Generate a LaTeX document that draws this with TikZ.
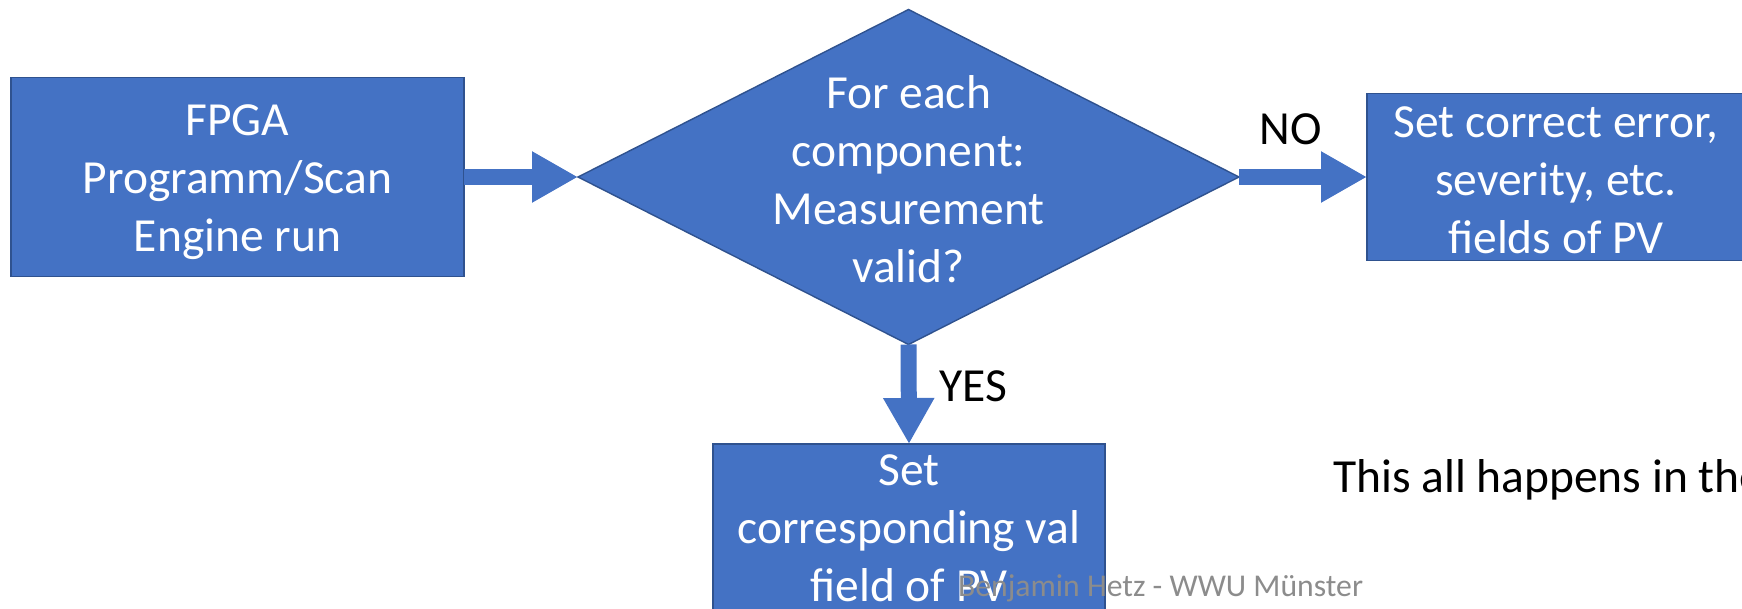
\documentclass[tikz,border=0pt]{standalone}
\usepackage{fontspec}
\setmainfont{Carlito}
\usetikzlibrary{shapes.geometric,arrows.meta}
\definecolor{officeblue}{HTML}{4472C4}
\definecolor{officeedge}{HTML}{2F528F}
\definecolor{footgray}{HTML}{8C8C8C}
\tikzset{
  bigfont/.style={font=\fontsize{47.5}{58}\selectfont},
  procbox/.style={rectangle, draw=officeedge, line width=1.4pt, fill=officeblue,
    text=white, align=center, inner sep=0pt, outer sep=0pt, bigfont},
  decbox/.style={diamond, draw=officeedge, line width=1.4pt, fill=officeblue,
    inner sep=0pt, outer sep=0pt},
  boxtext/.style={text=white, align=center, inner sep=0pt, bigfont},
  blockarrow/.style={draw=officeblue, line width=16pt,
    -{Triangle[width=48pt,length=46pt]}},
  plainlabel/.style={text=black, inner sep=0pt, bigfont},
}
\begin{document}
\begin{tikzpicture}[x=1pt,y=-1pt]
  \useasboundingbox (0,0) rectangle (1742,609);
  \clip (0,0) rectangle (1742,609);

  % process steps and decision
  \node[procbox, minimum width=453pt, minimum height=199pt] (fpga) at (237.5,177) {};
  \node[boxtext] (fpgatext) at (237.5,182) {FPGA\\Programm/Scan\\Engine run};
  \node[decbox, minimum width=661pt, minimum height=335pt] (check) at (908.5,177) {};
  \node[boxtext] (checktext) at (908.5,179) {For each\\component:\\Measurement\\valid?};
  \node[procbox, minimum width=378pt, minimum height=167pt] (errset) at (1556,177) {};
  \node[boxtext] (errtext) at (1556,180) {Set correct error,\\severity, etc.\\fields of PV};
  \node[procbox, minimum width=392pt, minimum height=168pt] (valset) at (909,528)
    {Set\\corresponding val\\field of PV};

  % flow
  \draw[blockarrow] (fpga.east) -- (check.west);
  \draw[blockarrow] (check.east) -- (errset.west);
  \draw[blockarrow] (check.south) -- (valset.north);

  % branch labels
  \node[plainlabel, anchor=base] (nolabel) at (1291,145) {NO};
  \node[plainlabel, anchor=base west] (yeslabel) at (939,401) {YES};

  % remark
  \node[plainlabel, anchor=base west] (remark) at (1333,492) {This all happens in the};

  % footer
  \node[text=footgray, inner sep=0pt, anchor=base west,
    font=\fontsize{31.7}{38}\selectfont] (footer) at (958,596) {Benjamin Hetz - WWU Münster};
\end{tikzpicture}
\end{document}
